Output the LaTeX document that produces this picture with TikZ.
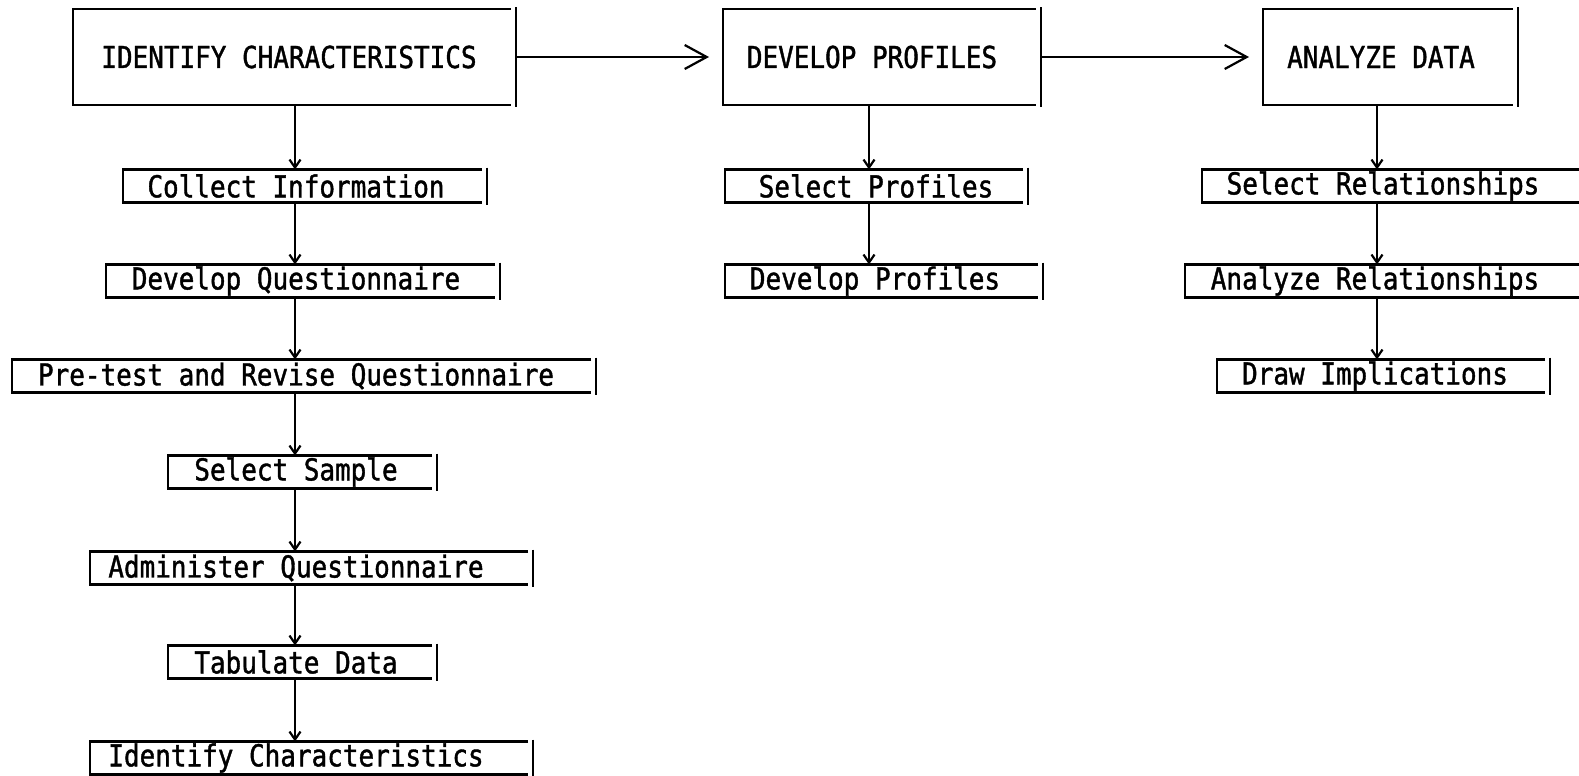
\documentclass[tikz,border=0pt]{standalone}
\usepackage{fontspec}
\newfontfamily\typewr[FakeStretch=0.86,FakeBold=1.3]{DejaVu Sans Mono}
\usetikzlibrary{arrows.meta,fit}

\tikzset{
  lbl/.style={font=\typewr\fontsize{15.1pt}{18pt}\selectfont, inner sep=0pt, outer sep=0pt, anchor=center},
  holder/.style={inner sep=0pt, outer sep=0pt, draw=none},
  frame/.style={line width=1.1pt},
  flow/.style={line width=1.1pt, -{Straight Barb[length=4pt,width=5.5pt]}},
  bigflow/.style={line width=1.1pt, -{Straight Barb[length=11pt,width=12pt]}, shorten >=7pt},
}

% typed box: name, text centre x, centre y, left x, bar x, half height, text
\newcommand\tybox[7]{%
  \node[holder, fit={(#4,#3-#6) (#5,#3+#6)}] (#1) {};
  \node[lbl] (#1t) at (#2,#3) {#7};
  \draw[frame] ([xshift=-2.5pt]#1.north east) -- (#1.north west) -- (#1.south west) -- ([xshift=-2.5pt]#1.south east);
  \draw[frame] ([yshift=1pt]#1.north east) -- ([yshift=-1pt]#1.south east);
}

\begin{document}
\begin{tikzpicture}[x=0.5pt,y=-0.5pt]
\useasboundingbox (0,0) rectangle (1579,776);
\clip (0,0) rectangle (1579,776);
\fill[white] (0,0) rectangle (1579,776);

% main stages
\tybox{top1}{289}{57}{73}{516}{48}{IDENTIFY CHARACTERISTICS}
\tybox{top2}{872}{57}{723}{1041}{48}{DEVELOP PROFILES}
\tybox{top3}{1381}{57}{1263}{1518}{48}{ANALYZE DATA}

% column axes
\coordinate (colA) at (295,0);
\coordinate (colB) at (869,0);
\coordinate (colC) at (1377,0);

% first stage steps
\tybox{a1}{296}{186}{123}{487}{16.5}{Collect Information}
\tybox{a2}{296}{281}{106}{500}{16.5}{Develop Questionnaire}
\tybox{a3}{296}{376}{12}{596}{16.5}{Pre-test and Revise Questionnaire}
\tybox{a4}{296}{472}{168}{437}{16.5}{Select Sample}
\tybox{a5}{296}{568}{90}{533}{16.5}{Administer Questionnaire}
\tybox{a6}{296}{662}{168}{437}{16.5}{Tabulate Data}
\tybox{a7}{296}{758}{90}{533}{16.5}{Identify Characteristics}

% second stage steps
\tybox{b1}{876}{186}{725}{1028}{16.5}{Select Profiles}
\tybox{b2}{875}{281}{725}{1043}{16.5}{Develop Profiles}

% third stage steps
\tybox{c1}{1383}{186}{1202}{1620}{16.5}{Select Relationships}
\tybox{c2}{1375}{281}{1185}{1620}{16.5}{Analyze Relationships}
\tybox{c3}{1375}{376}{1217}{1550}{16.5}{Draw Implications}

% stage to stage
\draw[bigflow] (top1.east) -- (top2.west);
\draw[bigflow] (top2.east) -- (top3.west);

% down the columns
\draw[flow] (colA |- top1.south) -- (colA |- a1.north);
\draw[flow] (colA |- a1.south) -- (colA |- a2.north);
\draw[flow] (colA |- a2.south) -- (colA |- a3.north);
\draw[flow] (colA |- a3.south) -- (colA |- a4.north);
\draw[flow] (colA |- a4.south) -- (colA |- a5.north);
\draw[flow] (colA |- a5.south) -- (colA |- a6.north);
\draw[flow] (colA |- a6.south) -- (colA |- a7.north);

\draw[flow] (colB |- top2.south) -- (colB |- b1.north);
\draw[flow] (colB |- b1.south) -- (colB |- b2.north);

\draw[flow] (colC |- top3.south) -- (colC |- c1.north);
\draw[flow] (colC |- c1.south) -- (colC |- c2.north);
\draw[flow] (colC |- c2.south) -- (colC |- c3.north);
\end{tikzpicture}
\end{document}
